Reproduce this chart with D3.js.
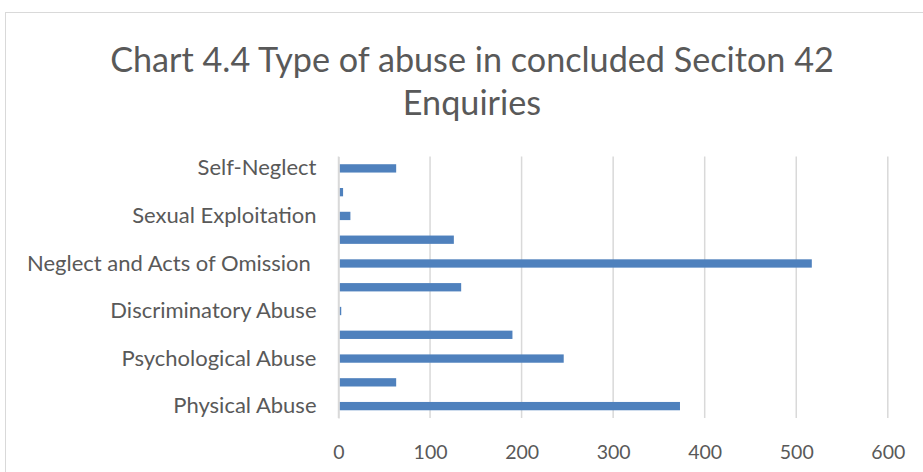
<!DOCTYPE html>
<html><head><meta charset="utf-8">
<script src="https://cdn.jsdelivr.net/npm/d3@7"></script>
<style>body{margin:0;background:#fff}svg{display:block}text{font-family:Lato,"Open Sans",sans-serif}</style>
</head><body>
<svg id="c" width="923" height="472"></svg>
<script>
const categories = ["Physical Abuse","Sexual Abuse","Psychological Abuse","Financial or Material Abuse","Discriminatory Abuse","Organisational Abuse","Neglect and Acts of Omission ","Domestic Abuse","Sexual Exploitation","Modern Slavery","Self-Neglect"];
const values = [373, 63, 246, 190, 3, 134, 517, 126, 13, 5, 63];
const shownLabels = ["Physical Abuse","Psychological Abuse","Discriminatory Abuse","Neglect and Acts of Omission ","Sexual Exploitation","Self-Neglect"];
const xTicks = [0,100,200,300,400,500,600];
const titleLines = ["Chart 4.4 Type of abuse in concluded Seciton 42","Enquiries"];

const svg = d3.select("#c");
svg.append("rect").attr("x",5.5).attr("y",12.5).attr("width",930).attr("height",470)
  .attr("fill","#fff").attr("stroke","#d9d9d9").attr("stroke-width",1);

const x = d3.scaleLinear().domain([0,600]).range([338.5,887.8]);
const y = d3.scaleBand().domain(categories).range([418,156.5]).paddingInner(0.65).paddingOuter(0.325);

svg.append("g").selectAll("line").data(xTicks).join("line")
  .attr("x1",d=>x(d)).attr("x2",d=>x(d)).attr("y1",156.5).attr("y2",418)
  .attr("stroke","#d9d9d9").attr("stroke-width",1.5);

svg.append("g").selectAll("rect").data(categories).join("rect")
  .attr("x",x(0)+1).attr("y",d=>y(d)).attr("height",y.bandwidth())
  .attr("width",(d,i)=>Math.max(0,x(values[i])-x(0)-1)).attr("fill","#4f81bd");

const xa = svg.append("g").attr("transform","translate(0,418)")
  .call(d3.axisBottom(x).tickValues(xTicks).tickSize(0).tickPadding(27));
xa.select(".domain").remove();
xa.selectAll("text").attr("font-size",19.5).attr("fill","#595959").attr("font-family","Lato");

const ya = svg.append("g").attr("transform","translate(338.5,0)")
  .call(d3.axisLeft(y).tickSize(0).tickPadding(22).tickFormat(d=>shownLabels.includes(d)?d:""));
ya.select(".domain").attr("stroke","#d9d9d9").attr("stroke-width",1.5);
ya.selectAll("text").attr("font-size",22).attr("fill","#595959").attr("font-family","Lato").style("white-space","pre");

svg.append("g").selectAll("text").data(titleLines).join("text")
  .attr("x",472).attr("y",(d,i)=>72+i*43).attr("text-anchor","middle")
  .attr("font-size",34.2).attr("fill","#595959").text(d=>d);
</script>
</body></html>
